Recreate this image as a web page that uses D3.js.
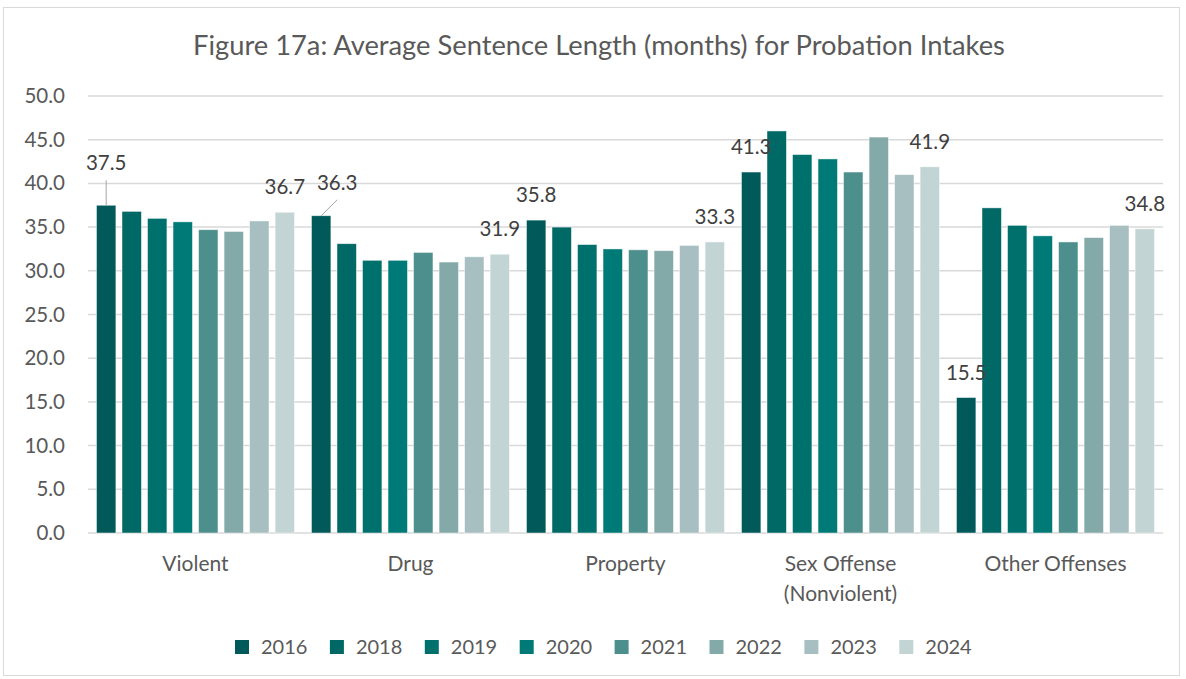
<!DOCTYPE html>
<html>
<head>
<meta charset="utf-8">
<script src="https://cdn.jsdelivr.net/npm/d3@7"></script>
<style>
  body { margin: 0; background: #fff; }
  text { font-family: Lato, "Open Sans", sans-serif; }
</style>
</head>
<body>
<div id="graph"></div>
<script>
// chart data
var categories = ["Violent", "Drug", "Property", "Sex Offense\n(Nonviolent)", "Other Offenses"];
var years = ["2016", "2018", "2019", "2020", "2021", "2022", "2023", "2024"];
var colors = ["#02595a", "#006865", "#00706c", "#007a76", "#4c8f8c", "#83aaa8", "#a7bfc0", "#c3d4d4"];
var violent = [37.5, 36.8, 36.0, 35.6, 34.7, 34.5, 35.7, 36.7];
var drug = [36.3, 33.1, 31.2, 31.2, 32.1, 31.0, 31.6, 31.9];
var property = [35.8, 35.0, 33.0, 32.5, 32.4, 32.3, 32.9, 33.3];
var sexOffense = [41.3, 46.0, 43.3, 42.8, 41.3, 45.3, 41.0, 41.9];
var other = [15.5, 37.2, 35.2, 34.0, 33.3, 33.8, 35.2, 34.8];
var yTicks = [0, 5, 10, 15, 20, 25, 30, 35, 40, 45, 50];

var series = [violent, drug, property, sexOffense, other];

var W = 1186, H = 679;
var plot = {left: 88, right: 1163, top: 96, bottom: 533};

var svg = d3.select("#graph").append("svg")
  .attr("width", W)
  .attr("height", H);

// chart border
svg.append("rect")
  .attr("x", 3.5).attr("y", 7.5)
  .attr("width", 1176).attr("height", 668)
  .attr("fill", "#fff")
  .attr("stroke", "#d9d9d9");

var x0 = d3.scaleBand()
  .domain(categories)
  .range([plot.left, plot.right])
  .paddingInner(0.079)
  .paddingOuter(0.0395);

var x1 = d3.scaleBand()
  .domain(years)
  .range([0, x0.bandwidth()])
  .paddingInner(0.24)
  .paddingOuter(0);

var y = d3.scaleLinear()
  .domain([0, 50])
  .range([plot.bottom, plot.top]);

// title
svg.append("text")
  .attr("x", 599).attr("y", 55)
  .attr("text-anchor", "middle")
  .attr("font-size", 27.3)
  .attr("fill", "#595959")
  .text("Figure 17a: Average Sentence Length (months) for Probation Intakes");

// gridlines
svg.append("g")
  .selectAll("line")
  .data(yTicks)
  .enter().append("line")
    .attr("x1", plot.left).attr("x2", plot.right)
    .attr("y1", function(d) { return y(d); })
    .attr("y2", function(d) { return y(d); })
    .attr("stroke", "#d9d9d9")
    .attr("stroke-width", 1.5);

// y axis labels
var yAxis = d3.axisLeft(y)
  .tickValues(yTicks)
  .tickFormat(d3.format(".1f"))
  .tickSize(0)
  .tickPadding(0);

svg.append("g")
  .attr("transform", "translate(65,0)")
  .call(yAxis)
  .call(function(g) { g.select(".domain").remove(); })
  .selectAll("text")
    .attr("font-size", 20.5)
    .attr("fill", "#595959")
    .attr("font-family", "Lato, sans-serif");

// bars
var groups = svg.append("g")
  .selectAll("g")
  .data(categories)
  .enter().append("g")
    .attr("transform", function(d) { return "translate(" + x0(d) + ",0)"; });

groups.selectAll("rect")
  .data(function(d, i) { return series[i].map(function(v, j) { return {year: years[j], value: v, color: colors[j]}; }); })
  .enter().append("rect")
    .attr("x", function(d) { return x1(d.year); })
    .attr("y", function(d) { return y(d.value); })
    .attr("width", x1.bandwidth())
    .attr("height", function(d) { return y(0) - y(d.value); })
    .attr("fill", function(d) { return d.color; })
    .attr("stroke", "#ffffff")
    .attr("stroke-opacity", 0.6)
    .attr("stroke-width", 0.75);

// data labels - only first and last year in each group
var labels = [];
series.forEach(function(vals, i) {
  [0, years.length - 1].forEach(function(j) {
    labels.push({cat: categories[i], year: years[j], value: vals[j], ci: i, yi: j});
  });
});

// labels moved off the bar with a leader line (dx, dy from default position)
var moved = {"0-0": [0, -17], "1-0": [16, -8]};

labels.forEach(function(d) {
  var cx = x0(d.cat) + x1(d.year) + x1.bandwidth() / 2;
  var top = y(d.value);
  var off = moved[d.ci + "-" + d.yi] || [0, 0];
  var lx = cx + off[0], ly = top - 25 + off[1];
  if (moved[d.ci + "-" + d.yi]) {
    svg.append("line")
      .attr("x1", lx).attr("y1", ly + 17)
      .attr("x2", cx).attr("y2", top)
      .attr("stroke", "#a6a6a6")
      .attr("stroke-width", 1);
  }
  svg.append("text")
    .attr("x", lx).attr("y", ly)
    .attr("dy", "0.35em")
    .attr("text-anchor", "middle")
    .attr("font-size", 20.5)
    .attr("fill", "#404040")
    .text(d3.format(".1f")(d.value));
});

// category labels
var catLabels = svg.append("g")
  .selectAll("text")
  .data(categories)
  .enter().append("text")
    .attr("x", function(d) { return x0(d) + x0.bandwidth() / 2; })
    .attr("y", 571)
    .attr("text-anchor", "middle")
    .attr("font-size", 21)
    .attr("fill", "#595959");

catLabels.selectAll("tspan")
  .data(function(d) { return d.split("\n"); })
  .enter().append("tspan")
    .attr("x", function() { return d3.select(this.parentNode).attr("x"); })
    .attr("dy", function(d, i) { return i ? 30 : 0; })
    .text(function(d) { return d; });

// legend
var legend = svg.append("g")
  .selectAll("g")
  .data(years)
  .enter().append("g")
    .attr("transform", function(d, i) { return "translate(" + (235 + i * 94.9) + ",640)"; });

legend.append("rect")
  .attr("width", 14).attr("height", 14)
  .attr("fill", function(d, i) { return colors[i]; });

legend.append("text")
  .attr("x", 26).attr("y", 7)
  .attr("dy", "0.36em")
  .attr("font-size", 20)
  .attr("fill", "#595959")
  .text(function(d) { return d; });
</script>
</body>
</html>
